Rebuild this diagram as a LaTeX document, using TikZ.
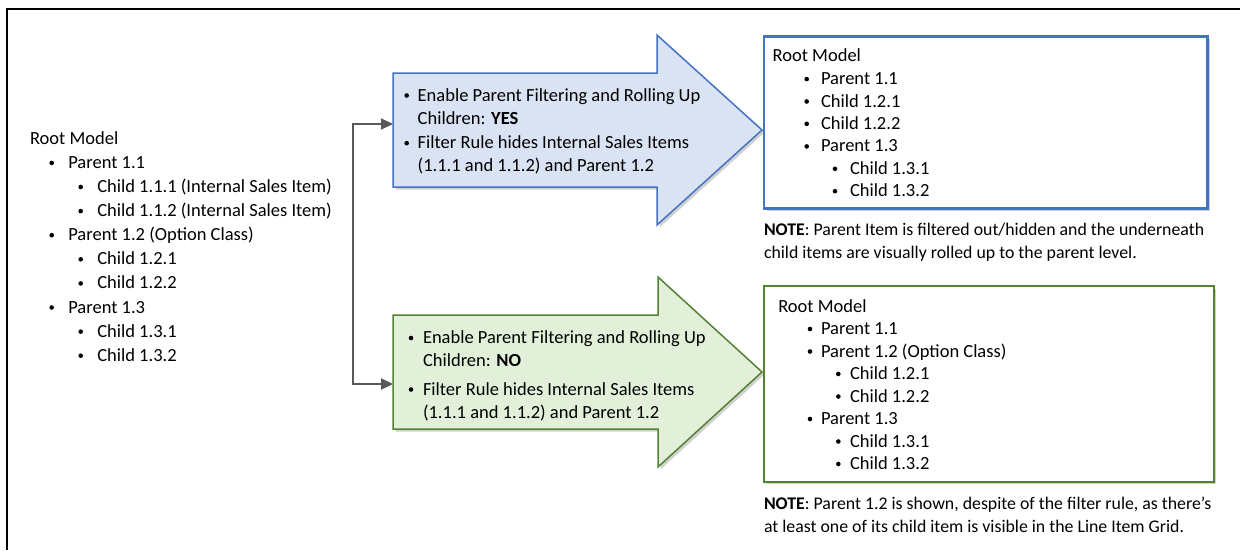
\documentclass[tikz,border=0pt]{standalone}
\usepackage{fontspec}
\setmainfont{Carlito}
\usetikzlibrary{arrows.meta,shadows}
\definecolor{bluefill}{HTML}{DAE3F3}
\definecolor{blueline}{HTML}{4472C4}
\definecolor{greenfill}{HTML}{E2F0D9}
\definecolor{greenline}{HTML}{548235}
\definecolor{connc}{HTML}{595959}
\tikzset{
  txt/.style={inner sep=0pt, outer sep=0pt, font=\fontsize{18.5}{22}\selectfont, text=black},
  notetxt/.style={inner sep=0pt, outer sep=0pt, font=\fontsize{17.8}{22}\selectfont, text=black},
  bulletdot/.style={circle, fill=black, inner sep=0pt, outer sep=0pt, minimum size=4.6pt},
  softshadow/.style={drop shadow={shadow xshift=2.5pt, shadow yshift=-2.5pt, opacity=.18, fill=black}},
  bluearrow/.style={fill=bluefill, draw=blueline, line width=1.5pt, line join=miter, softshadow},
  greenarrow/.style={fill=greenfill, draw=greenline, line width=1.5pt, line join=miter, softshadow},
  bluebox/.style={draw=blueline, fill=white, line width=2.6pt, inner sep=0pt, anchor=north west, softshadow},
  greenbox/.style={draw=greenline, fill=white, line width=2pt, inner sep=0pt, anchor=north west, softshadow},
  conn/.style={draw=connc, line width=2pt, {Triangle[length=12pt,width=11pt]}-{Triangle[length=12pt,width=11pt]}},
  frameline/.style={draw=black, line width=1.3pt},
}
% bullet item: name, x bullet, x text, y centre, text
\newcommand\mkbul[5]{%
  \node[bulletdot] (#1b) at (#2,#4+0.5) {};
  \node[txt,anchor=base west] (#1) at (#3,#4+6) {#5};}
% plain text line: name, x, y centre, text
\newcommand\mktxt[4]{%
  \node[txt,anchor=base west] (#1) at (#2,#3+6) {#4};}
\newcommand\mknote[4]{%
  \node[notetxt,anchor=base west] (#1) at (#2,#3+6) {#4};}
\begin{document}
\begin{tikzpicture}[x=1pt,y=-1pt]
\useasboundingbox (0,0) rectangle (1240,550);
% outer frame
\draw[frameline] (7,550) -- (7,9) -- (1240,9);

% ---------- left list ----------
\mktxt{lroot}{30}{138.3}{Root Model}
\mkbul{lp11}{51.7}{68.3}{162.4}{Parent 1.1}
\mkbul{lc111}{80.7}{97.3}{186.5}{Child 1.1.1 (Internal Sales Item)}
\mkbul{lc112}{80.7}{97.3}{210.6}{Child 1.1.2 (Internal Sales Item)}
\mkbul{lp12}{51.7}{68.3}{234.7}{Parent 1.2 (Option Class)}
\mkbul{lc121}{80.7}{97.3}{258.8}{Child 1.2.1}
\mkbul{lc122}{80.7}{97.3}{282.9}{Child 1.2.2}
\mkbul{lp13}{51.7}{68.3}{307}{Parent 1.3}
\mkbul{lc131}{80.7}{97.3}{331.1}{Child 1.3.1}
\mkbul{lc132}{80.7}{97.3}{355.2}{Child 1.3.2}

% ---------- block arrows ----------
\draw[bluearrow] (393,73) -- (657,73) -- (657,35) -- (762,130) -- (657,225) -- (657,187) -- (393,187) -- cycle;
\draw[greenarrow] (393,315) -- (658,315) -- (658,277) -- (762,372) -- (658,467) -- (658,429) -- (393,429) -- cycle;
\coordinate (bin) at (393,124);
\coordinate (gin) at (393,384);

\mkbul{ba1}{406.7}{417.7}{95}{Enable Parent Filtering and Rolling Up}
\mktxt{ba2}{417.7}{118.3}{Children: \textbf{YES}}
\mkbul{ba3}{406.7}{417.7}{142.7}{Filter Rule hides Internal Sales Items}
\mktxt{ba4}{417.7}{165.7}{(1.1.1 and 1.1.2) and Parent 1.2}

\mkbul{ga1}{411}{423}{337.5}{Enable Parent Filtering and Rolling Up}
\mktxt{ga2}{423}{360.5}{Children: \textbf{NO}}
\mkbul{ga3}{411}{423}{389}{Filter Rule hides Internal Sales Items}
\mktxt{ga4}{423}{412}{(1.1.1 and 1.1.2) and Parent 1.2}

% connector
\draw[conn] (bin) -- ++(-40.3,0) |- (gin);

% ---------- right boxes ----------
\node[bluebox, minimum width=443.3pt, minimum height=172.3pt] (rbox1) at (762.7,35) {};
\mktxt{r1root}{772.7}{55}{Root Model}
\mkbul{r1p11}{806.7}{821}{78.6}{Parent 1.1}
\mkbul{r1c121}{806.7}{821}{101}{Child 1.2.1}
\mkbul{r1c122}{806.7}{821}{123.3}{Child 1.2.2}
\mkbul{r1p13}{806.7}{821}{145.9}{Parent 1.3}
\mkbul{r1c131}{835}{850}{168.3}{Child 1.3.1}
\mkbul{r1c132}{835}{850}{190.7}{Child 1.3.2}
\mknote{n1a}{764}{229}{\textbf{NOTE}: Parent Item is filtered out/hidden and the underneath}
\mknote{n1b}{764}{252.3}{child items are visually rolled up to the parent level.}

\node[greenbox, minimum width=450pt, minimum height=195.7pt] (rbox2) at (762.7,285) {};
\mktxt{r2root}{778.3}{306}{Root Model}
\mkbul{r2p11}{810}{821}{328.5}{Parent 1.1}
\mkbul{r2p12}{810}{821}{351}{Parent 1.2 (Option Class)}
\mkbul{r2c121}{838.3}{850}{373.5}{Child 1.2.1}
\mkbul{r2c122}{838.3}{850}{396}{Child 1.2.2}
\mkbul{r2p13}{810}{821}{418.5}{Parent 1.3}
\mkbul{r2c131}{838.3}{850}{441}{Child 1.3.1}
\mkbul{r2c132}{838.3}{850}{463.5}{Child 1.3.2}
\mknote{n2a}{764}{503.3}{\textbf{NOTE}: Parent 1.2 is shown, despite of the filter rule, as there’s}
\mknote{n2b}{764}{526.7}{at least one of its child item is visible in the Line Item Grid.}
\end{tikzpicture}
\end{document}
